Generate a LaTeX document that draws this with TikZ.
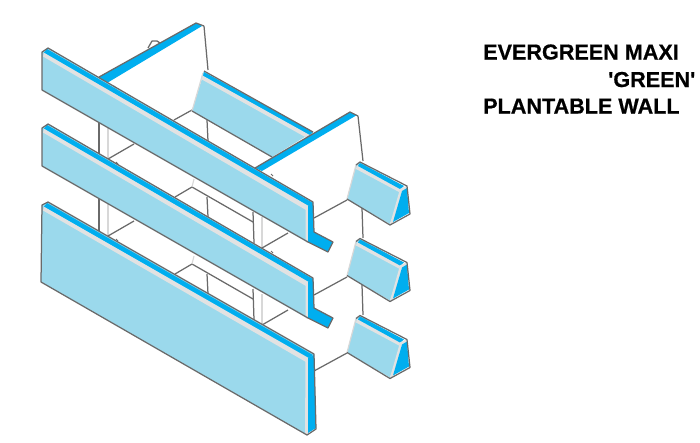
\documentclass[tikz,border=0pt]{standalone}
\usepackage{fontspec}
\setmainfont{Liberation Sans}
\newfontfamily\titlefont[UprightFont=* Bold,FakeBold=0.6]{Liberation Sans}
\definecolor{facec}{HTML}{9BD9EC}
\definecolor{stripc}{HTML}{00AEEF}
\definecolor{greyc}{HTML}{E2E2E2}
\definecolor{linec}{HTML}{6A6A6A}
\definecolor{softc}{HTML}{D8D8D8}
\tikzset{
  edge/.style={draw=linec,line width=1.25pt,line join=round},
  soft/.style={draw=softc,line width=1.2pt},
  face/.style={fill=facec},
  stripe/.style={fill=stripc},
  pale/.style={fill=greyc},
  title/.style={anchor=base west,inner sep=0pt,font=\titlefont\fontsize{21.6}{24}\selectfont}
}
\begin{document}
\begin{tikzpicture}[x=1pt,y=-1pt]
\useasboundingbox (0,0) rectangle (700,442);
% rear framing, repeated per level
\foreach \d in {0,77}{
\begin{scope}[shift={(0,\d)}]
  \draw[edge] (99,121) -- (99,155);
  \draw[soft] (108,125) -- (108,158);
  \draw[edge] (108,159) -- (134,144);
  \draw[edge] (175,197) -- (192,187) -- (253,222);
  \draw[soft] (192,187) -- (194,179);
  \draw[edge] (207,197) -- (208,217);
  \draw[edge] (253,212) -- (254,243);
  \draw[soft] (262,217) -- (262,247);
  \draw[edge] (262,248) -- (288,233);
  \draw[edge] (314,218) -- (347,200);
  \draw[edge] (362,208) -- (363,238);
\end{scope}}
\draw[edge] (314,371) -- (347,353);
\draw[edge] (174,120) -- (192,110);
\draw[edge] (207,120) -- (208,141);
% upper fins
\draw[edge] (148,48) -- (152,41) -- (157,41) -- (160,43);
\draw[edge] (204,26) -- (208,70);
\draw[edge] (358,116) -- (363,161);
% rear panel
\path[face] (204,72) -- (313,132) -- (272,157) -- (192,111) -- cycle;
\path[pale] (202,75) -- (310,135) -- (307,138) -- (201,79) -- cycle;
\path[stripe] (204,72) -- (313,132) -- (310,135) -- (202,75) -- cycle;
\draw[soft] (203,73) -- (192,111);
\draw[edge] (204,71) -- (313,132);
\draw[edge] (192,111) -- (272,157);
% fin tops
\path[stripe] (99,77) -- (196,23) -- (202,26) -- (107,83) -- cycle;
\draw[edge] (99,77) -- (196,23) -- (204,26);
\path[stripe] (255,168) -- (350,112) -- (357,115) -- (262,171) -- cycle;
\draw[edge] (255,168) -- (350,112) -- (358,116);
% blocks
\foreach \d in {0,76.5,153.5}{
\begin{scope}[shift={(0,\d)}]
  \path[face] (356,165) -- (360,162) -- (403,186) -- (390,224) -- (347,199) -- cycle;
  \path[pale] (357,165) -- (401,188) -- (399,192) -- (356,169) -- cycle;
  \path[stripe] (360,163) -- (404,186) -- (400,189) -- (358,166) -- cycle;
  \path[pale] (400,189) -- (406,186) -- (408,190) -- (402,191) -- (393,223) -- (390,224) -- cycle;
  \path[stripe] (402,191) -- (407,188) -- (409,213) -- (393,222) -- cycle;
  \draw[soft] (356,165) -- (347,199);
  \draw[edge] (347,199) -- (390,225) -- (410,214) -- (407,186) -- (360,162) -- (356,165);
\end{scope}}
% slat bars with feet
\foreach \d in {0,76}{
\begin{scope}[shift={(0,\d)}]
  \path[face] (42,52) -- (48,48) -- (313,202) -- (307,242) -- (42,90) -- cycle;
  \path[pale] (44,52.5) -- (309,206) -- (306,210) -- (43,56.5) -- cycle;
  \path[stripe] (47,49) -- (313,203) -- (309,206) -- (44,52.5) -- cycle;
  \path[pale] (305.5,209) -- (308,206) -- (308,243) -- (305.5,242) -- cycle;
  \path[stripe] (308,206) -- (313,203) -- (314,232) -- (333,242) -- (328,252) -- (308,242) -- cycle;
  \draw[edge] (42,90) -- (42,52) -- (48,48) -- (313,202) -- (314,232) -- (333,242) -- (328,252) -- (308,242) -- cycle;
\end{scope}}
% tall bottom slat
\path[face] (42,205) -- (48,202) -- (314,354) -- (307,435) -- (41,282) -- cycle;
\path[pale] (44,206.5) -- (309,358) -- (306,362) -- (43,210.5) -- cycle;
\path[stripe] (47,203) -- (313,355) -- (309,358) -- (44,206.5) -- cycle;
\path[pale] (305.5,360) -- (308,358) -- (308,435) -- (305,434) -- cycle;
\path[stripe] (308,358) -- (314,355) -- (316,428) -- (308,433) -- cycle;
\draw[edge] (41,282) -- (42,205) -- (48,202) -- (314,354) -- (316,429) -- (307,435) -- cycle;
% small ticks
\foreach \a/\b in {115/87,272/175,117/163,272/252,117/240}
  \draw[linec,line width=.8pt] (\a-1,\b-1) -- (\a+1,\b+1);
% title
\node[title] (t1) at (483,59.5) {EVERGREEN MAXI};
\node[title] (t2) at (608,87) {'GREEN'};
\node[title] (t3) at (483,113.5) {PLANTABLE WALL};
\end{tikzpicture}
\end{document}
